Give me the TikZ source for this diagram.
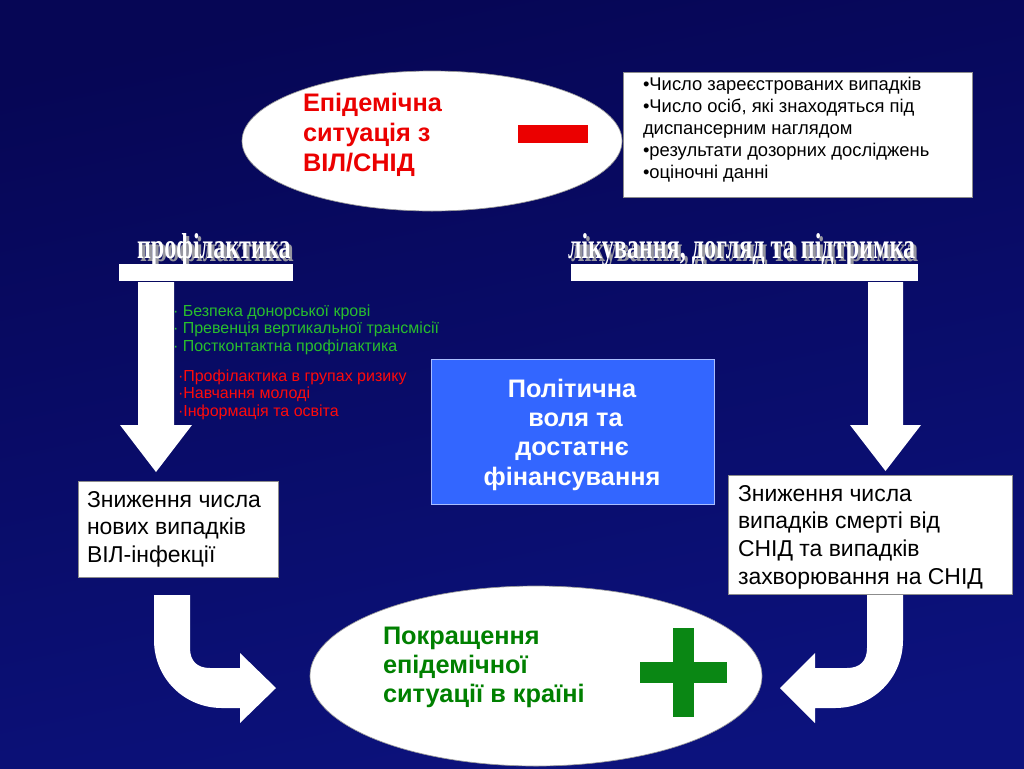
\documentclass[tikz,border=0pt]{standalone}
\usepackage{graphicx}
\usepackage{fontspec}
\setmainfont{Liberation Sans}
\newfontfamily\headfont{Liberation Serif}
\usetikzlibrary{shapes.geometric}

\definecolor{bgdark}{RGB}{6,6,85}
\definecolor{bgmid}{RGB}{30,45,178}
\definecolor{bgbot}{RGB}{12,18,125}
\definecolor{epired}{RGB}{235,0,0}
\definecolor{listgreen}{RGB}{40,190,45}
\definecolor{listred}{RGB}{255,10,10}
\definecolor{goodgreen}{RGB}{0,128,0}
\definecolor{plusgreen}{RGB}{10,135,20}
\definecolor{polblue}{RGB}{51,102,255}
\definecolor{polborder}{RGB}{170,190,255}
\definecolor{headgray}{RGB}{150,150,160}

\newcommand\llines[1]{\begin{tabular}[t]{@{}l@{}}#1\end{tabular}}
\newcommand\clines[1]{\begin{tabular}[t]{@{}c@{}}#1\end{tabular}}

\tikzset{
  txt/.style={anchor=base west, inner sep=0pt, outer sep=0pt},
  whiteshape/.style={fill=white, draw=black!45, line width=0.5pt},
  whitebox/.style={whiteshape, anchor=north west, inner sep=0pt},
  oval/.style={ellipse, fill=white, draw=black!40, line width=0.5pt, inner sep=0pt},
  boxfont/.style={font=\fontsize{17.2}{20.8}\selectfont},
  infofont/.style={font=\fontsize{13.8}{16.5}\selectfont},
  listfont/.style={font=\fontsize{12}{13.2}\selectfont},
  headtext/.style={txt, text=white},
}
\newcommand\titlesize{\fontsize{19}{22.5}\selectfont\bfseries}
\newcommand\headraw[1]{\headfont\bfseries\fontsize{27}{30}\selectfont\scalebox{0.67}[1]{#1}}
\newcommand\headline[1]{\makebox[0pt][l]{\hspace{2.25pt}\raisebox{-2.25pt}{\textcolor{headgray}{\headraw{#1}}}}\textcolor{white}{\headraw{#1}}}

\begin{document}
\begin{tikzpicture}[x=0.75pt,y=-0.75pt]
\useasboundingbox (0,0) rectangle (1024,768);
% background
\shade[top color=bgdark, middle color=bgmid, bottom color=bgbot, shading angle=12] (0,0) rectangle (1024,768);

% top ellipse
\node[oval, minimum width=285pt, minimum height=105pt] (epi) at (432,141) {};
\node[txt, text=epired] (epitext) at (303,111) {\titlesize\llines{Епідемічна\\ситуація з\\ВІЛ/СНІД}};
\fill[epired] (518,125) rectangle (588,143);

% info box
\node[whitebox, minimum width=261.75pt, minimum height=93.75pt] (info) at (623,72) {};
\node[txt, infofont, text=black] (infotext) at (643,90) {\llines{•Число зареєстрованих випадків\\•Число осіб, які знаходяться під\\диспансерним наглядом\\•результати дозорних досліджень\\•оціночні данні}};

% headings
\node[headtext] (proph) at (137,258) {\headline{профілактика}};
\node[headtext] (treat) at (568,258) {\headline{лікування, догляд та підтримка}};

% bars
\node[whitebox, draw=none, minimum width=130.5pt, minimum height=12.75pt] (barL) at (119,264) {};
\node[whitebox, draw=none, minimum width=260.25pt, minimum height=12.75pt] (barR) at (571,264) {};

% down arrows
\fill[white] (138,282) -- (174,282) -- (174,425) -- (192,425) -- (156,472) -- (120,425) -- (138,425) -- cycle;
\fill[white] (868,282) -- (903,282) -- (903,425) -- (921,425) -- (885.5,471) -- (850,425) -- (868,425) -- cycle;

% lists
\node[txt, listfont, text=listgreen] (glist) at (173,316) {\llines{· Безпека донорської крові\\· Превенція вертикальної трансмісії\\· Постконтактна профілактика}};
\node[txt, listfont, text=listred] (rlist) at (178,381) {\llines{·Профілактика в групах ризику\\·Навчання молоді\\·Інформація та освіта}};

% political box
\node[whitebox, fill=polblue, draw=polborder, line width=0.8pt, minimum width=212.25pt, minimum height=108.75pt] (pol) at (431,359) {};
\node[anchor=base, inner sep=0pt, text=white] (poltext) at (572,397) {\fontsize{19}{22}\selectfont\bfseries\clines{Політична\\\ воля та\\достатнє\\фінансування}};

% result boxes
\node[whitebox, minimum width=150pt, minimum height=72pt] (resL) at (78,481) {};
\node[txt, boxfont, text=black] (resLtext) at (87,507) {\llines{Зниження числа\\нових випадків\\ВІЛ-інфекції}};
\node[whitebox, minimum width=213pt, minimum height=89.25pt] (resR) at (728,475) {};
\node[txt, boxfont, text=black] (resRtext) at (738,501) {\llines{Зниження числа\\випадків смерті від\\СНІД та випадків\\захворювання на СНІД}};

% bottom ellipse
\node[oval, minimum width=339pt, minimum height=135pt] (good) at (536,676) {};
\node[txt, text=goodgreen] (goodtext) at (383,644) {\fontsize{19}{22}\selectfont\bfseries\llines{Покращення\\епідемічної\\ситуації в країні}};
\fill[plusgreen] (640,662) rectangle (727,683);
\fill[plusgreen] (673,628) rectangle (694,717);

% curved arrows
\fill[white] (154,595) -- (190,595) -- (190,648) .. controls (190,661) and (197,668) .. (210,668) -- (240,668) -- (240,653) -- (276,688) -- (240,723) -- (240,708) -- (222,708) .. controls (184,708) and (154,678) .. (154,640) -- cycle;
\fill[white] (903,595) -- (867,595) -- (867,648) .. controls (867,661) and (860,668) .. (847,668) -- (815,668) -- (815,653) -- (780,688) -- (815,723) -- (815,708) -- (835,708) .. controls (873,708) and (903,678) .. (903,640) -- cycle;
\end{tikzpicture}
\end{document}
